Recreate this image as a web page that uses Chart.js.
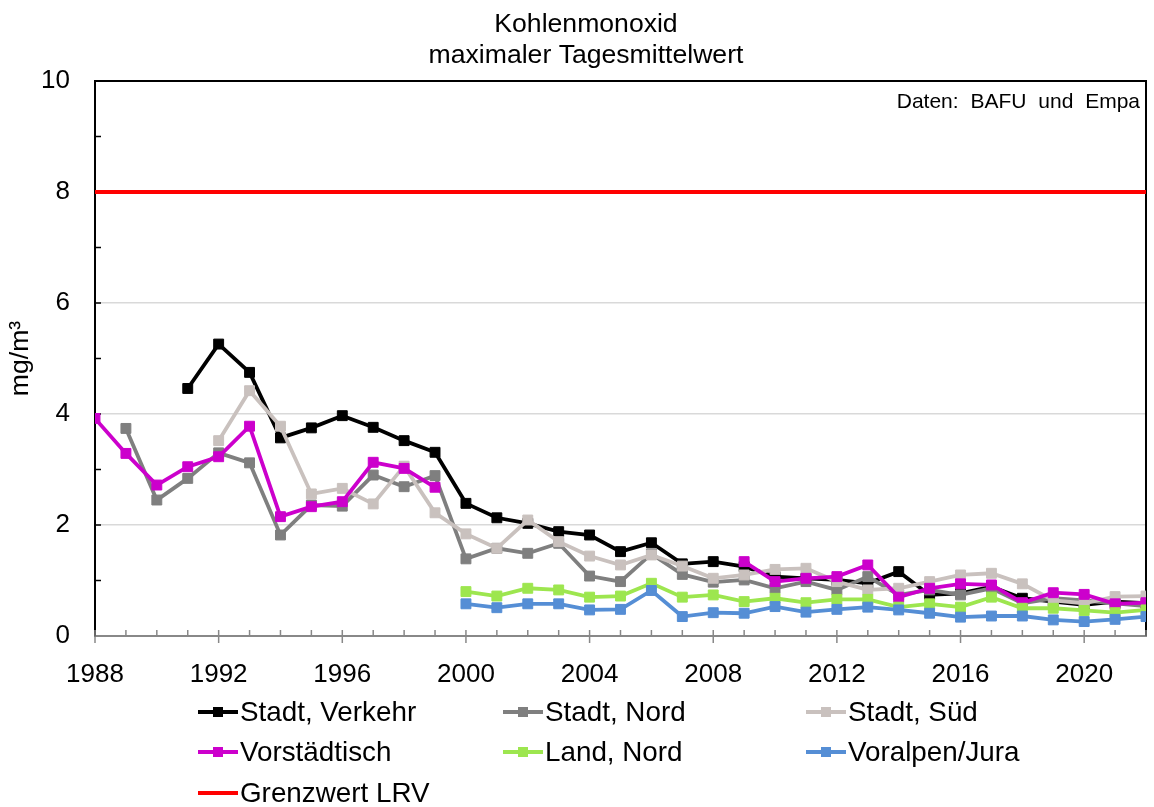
<!DOCTYPE html>
<html lang="de">
<head>
<meta charset="utf-8">
<title>Kohlenmonoxid</title>
<script src="https://cdn.jsdelivr.net/npm/chart.js@4"></script>
<style>
  html, body { margin: 0; padding: 0; background: #fff; }
  canvas { display: block; }
</style>
</head>
<body>
<canvas id="grafik" width="1154" height="807"></canvas>
<script>
const jahre = [1988, 1989, 1990, 1991, 1992, 1993, 1994, 1995, 1996, 1997, 1998, 1999,
    2000, 2001, 2002, 2003, 2004, 2005, 2006, 2007, 2008, 2009, 2010, 2011,
    2012, 2013, 2014, 2015, 2016, 2017, 2018, 2019, 2020, 2021, 2022];

// Werte in mg/m³, null = keine Messung
const stadtVerkehr = [null, null, null, 4.46, 5.26, 4.75, 3.57, 3.75, 3.97, 3.76, 3.52, 3.31,
    2.39, 2.13, 2.03, 1.88, 1.82, 1.52, 1.68, 1.30, 1.34, 1.25, 1.07, 1.04,
    1.01, 0.95, 1.16, 0.74, 0.77, 0.89, 0.68, 0.62, 0.56, 0.62, 0.59];
const stadtNord = [null, 3.74, 2.45, 2.84, 3.30, 3.12, 1.82, 2.36, 2.34, 2.90, 2.69, 2.89,
    1.39, 1.58, 1.49, 1.67, 1.08, 0.98, 1.48, 1.11, 0.97, 1.01, 0.86, 0.98,
    0.83, 1.07, 0.74, 0.83, 0.74, 0.86, 0.59, 0.68, 0.64, 0.59, 0.54];
const stadtSued = [null, null, null, null, 3.52, 4.42, 3.78, 2.56, 2.66, 2.38, 3.06, 2.22,
    1.84, 1.58, 2.09, 1.70, 1.44, 1.28, 1.46, 1.26, 1.04, 1.10, 1.20, 1.22,
    0.98, 0.83, 0.86, 0.98, 1.10, 1.13, 0.94, 0.64, 0.59, 0.71, 0.72];
const vorstaedtisch = [3.92, 3.29, 2.72, 3.05, 3.23, 3.78, 2.15, 2.33, 2.42, 3.13, 3.02, 2.68,
    null, null, null, null, null, null, null, null, null, 1.34, 0.98, 1.04,
    1.07, 1.28, 0.70, 0.86, 0.94, 0.92, 0.60, 0.78, 0.75, 0.58, 0.60];
const landNord = [null, null, null, null, null, null, null, null, null, null, null, null,
    0.80, 0.72, 0.86, 0.83, 0.70, 0.72, 0.95, 0.70, 0.74, 0.62, 0.68, 0.60,
    0.66, 0.66, 0.52, 0.58, 0.52, 0.70, 0.50, 0.50, 0.46, 0.42, 0.47];
const voralpenJura = [null, null, null, null, null, null, null, null, null, null, null, null,
    0.58, 0.51, 0.58, 0.58, 0.47, 0.48, 0.82, 0.35, 0.42, 0.41, 0.53, 0.43,
    0.48, 0.52, 0.47, 0.41, 0.34, 0.36, 0.36, 0.29, 0.26, 0.30, 0.35];
const grenzwertLRV = 8;

const titel = ['Kohlenmonoxid', 'maximaler Tagesmittelwert'];
const quelle = 'Daten: BAFU und Empa';
const einheit = 'mg/m³';

const serien = [
    { name: 'Stadt, Verkehr', werte: stadtVerkehr, farbe: '#000000' },
    { name: 'Stadt, Nord', werte: stadtNord, farbe: '#7f7f7f' },
    { name: 'Stadt, Süd', werte: stadtSued, farbe: '#c9c1be' },
    { name: 'Vorstädtisch', werte: vorstaedtisch, farbe: '#cc00cc' },
    { name: 'Land, Nord', werte: landNord, farbe: '#9de64f' },
    { name: 'Voralpen/Jura', werte: voralpenJura, farbe: '#558ed5' },
];

const SCHRIFT = '"Liberation Sans", Arial, sans-serif';

const datasets = serien.map((s, i) => ({
    label: s.name,
    data: jahre.map((j, k) => ({ x: j, y: s.werte[k] })),
    borderColor: s.farbe,
    backgroundColor: s.farbe,
    borderWidth: 3.8,
    pointStyle: 'rect',
    pointRadius: 7,
    pointBorderWidth: 1,
    pointBorderColor: s.farbe,
    pointBackgroundColor: s.farbe,
    spanGaps: false,
    order: serien.length - i,
}));
datasets.push({
    label: 'Grenzwert LRV',
    data: [{ x: jahre[0], y: grenzwertLRV }, { x: jahre[jahre.length - 1], y: grenzwertLRV }],
    borderColor: '#ff0000',
    backgroundColor: '#ff0000',
    borderWidth: 4,
    pointRadius: 0,
    order: 0,
});

// Rahmen, Teilstriche, Titel und Legende wie im Original
const extras = {
    id: 'extras',
    beforeDatasetsDraw(chart) {
        const { ctx, chartArea: a, scales: { x, y } } = chart;
        ctx.save();
        ctx.strokeStyle = '#000';
        ctx.lineWidth = 2;
        ctx.beginPath();
        ctx.moveTo(a.left, a.top);
        ctx.lineTo(a.right, a.top);
        ctx.lineTo(a.right, a.bottom);
        ctx.stroke();
        // y: Teilstriche nach innen
        ctx.lineWidth = 1.5;
        for (let v = 1; v < 10; v++) {
            const py = y.getPixelForValue(v);
            ctx.beginPath();
            ctx.moveTo(a.left, py);
            ctx.lineTo(a.left + 6, py);
            ctx.stroke();
        }
        // x: jedes Jahr kleiner Strich, alle vier Jahre durchgehend
        ctx.strokeStyle = '#888';
        ctx.lineWidth = 1.5;
        for (const j of jahre) {
            const px = x.getPixelForValue(j);
            const gross = (j - jahre[0]) % 4 === 0;
            ctx.beginPath();
            ctx.moveTo(px, a.bottom - 6);
            ctx.lineTo(px, gross ? a.bottom + 7 : a.bottom);
            ctx.stroke();
        }
        ctx.restore();
    },
    afterDraw(chart) {
        const { ctx, chartArea: a } = chart;
        ctx.save();
        ctx.fillStyle = '#000';
        ctx.font = `26.6px ${SCHRIFT}`;
        ctx.textAlign = 'center';
        ctx.textBaseline = 'alphabetic';
        ctx.fillText(titel[0], 586, 32);
        ctx.fillText(titel[1], 586, 63);

        ctx.save();
        ctx.translate(28, (a.top + a.bottom) / 2);
        ctx.rotate(-Math.PI / 2);
        ctx.fillText(einheit, 0, 0);
        ctx.restore();

        ctx.font = `21px ${SCHRIFT}`;
        ctx.wordSpacing = '6px';
        ctx.textAlign = 'right';
        ctx.fillText(quelle, a.right - 6, 108);
        ctx.wordSpacing = '0px';

        // Legende, drei Spalten
        const spalten = [198, 503, 806];
        const zeilen = [712, 752, 793];
        ctx.font = `27.8px ${SCHRIFT}`;
        ctx.textAlign = 'left';
        chart.data.datasets.forEach((ds, i) => {
            const lx = spalten[i % 3];
            const ly = zeilen[Math.floor(i / 3)];
            ctx.strokeStyle = ds.borderColor;
            ctx.lineWidth = ds.borderWidth;
            ctx.beginPath();
            ctx.moveTo(lx, ly);
            ctx.lineTo(lx + 40, ly);
            ctx.stroke();
            if (ds.pointRadius > 0) {
                ctx.fillStyle = ds.borderColor;
                ctx.fillRect(lx + 15, ly - 5, 10, 10);
            }
            ctx.fillStyle = '#000';
            ctx.fillText(ds.label, lx + 42, ly + 9);
        });
        ctx.restore();
    },
};

new Chart(document.getElementById('grafik'), {
    type: 'line',
    data: { datasets },
    options: {
        responsive: false,
        animation: false,
        layout: { padding: { top: 81, right: 5, left: 0, bottom: 0 } },
        plugins: {
            legend: { display: false },
            tooltip: { enabled: false },
            title: { display: false },
        },
        scales: {
            x: {
                type: 'linear',
                min: 1988,
                max: 2022,
                grid: { display: false },
                border: { display: true, color: '#888', width: 2 },
                ticks: {
                    stepSize: 4,
                    includeBounds: false,
                    padding: 15,
                    color: '#000',
                    font: { size: 26, family: SCHRIFT },
                    maxRotation: 0,
                    callback: (v) => String(v),
                },
                afterFit: (s) => { s.height = 171; },
            },
            y: {
                min: 0,
                max: 10,
                grid: {
                    drawTicks: false,
                    lineWidth: 1.5,
                    color: (c) => (c.tick.value === 0 || c.tick.value === 10) ? 'rgba(0,0,0,0)' : '#d9d9d9',
                },
                border: { display: true, color: '#000', width: 2 },
                ticks: {
                    stepSize: 2,
                    padding: 25,
                    color: '#000',
                    font: { size: 26, family: SCHRIFT },
                },
                afterFit: (s) => { s.width = 95; },
            },
        },
    },
    plugins: [extras],
});
</script>
</body>
</html>
